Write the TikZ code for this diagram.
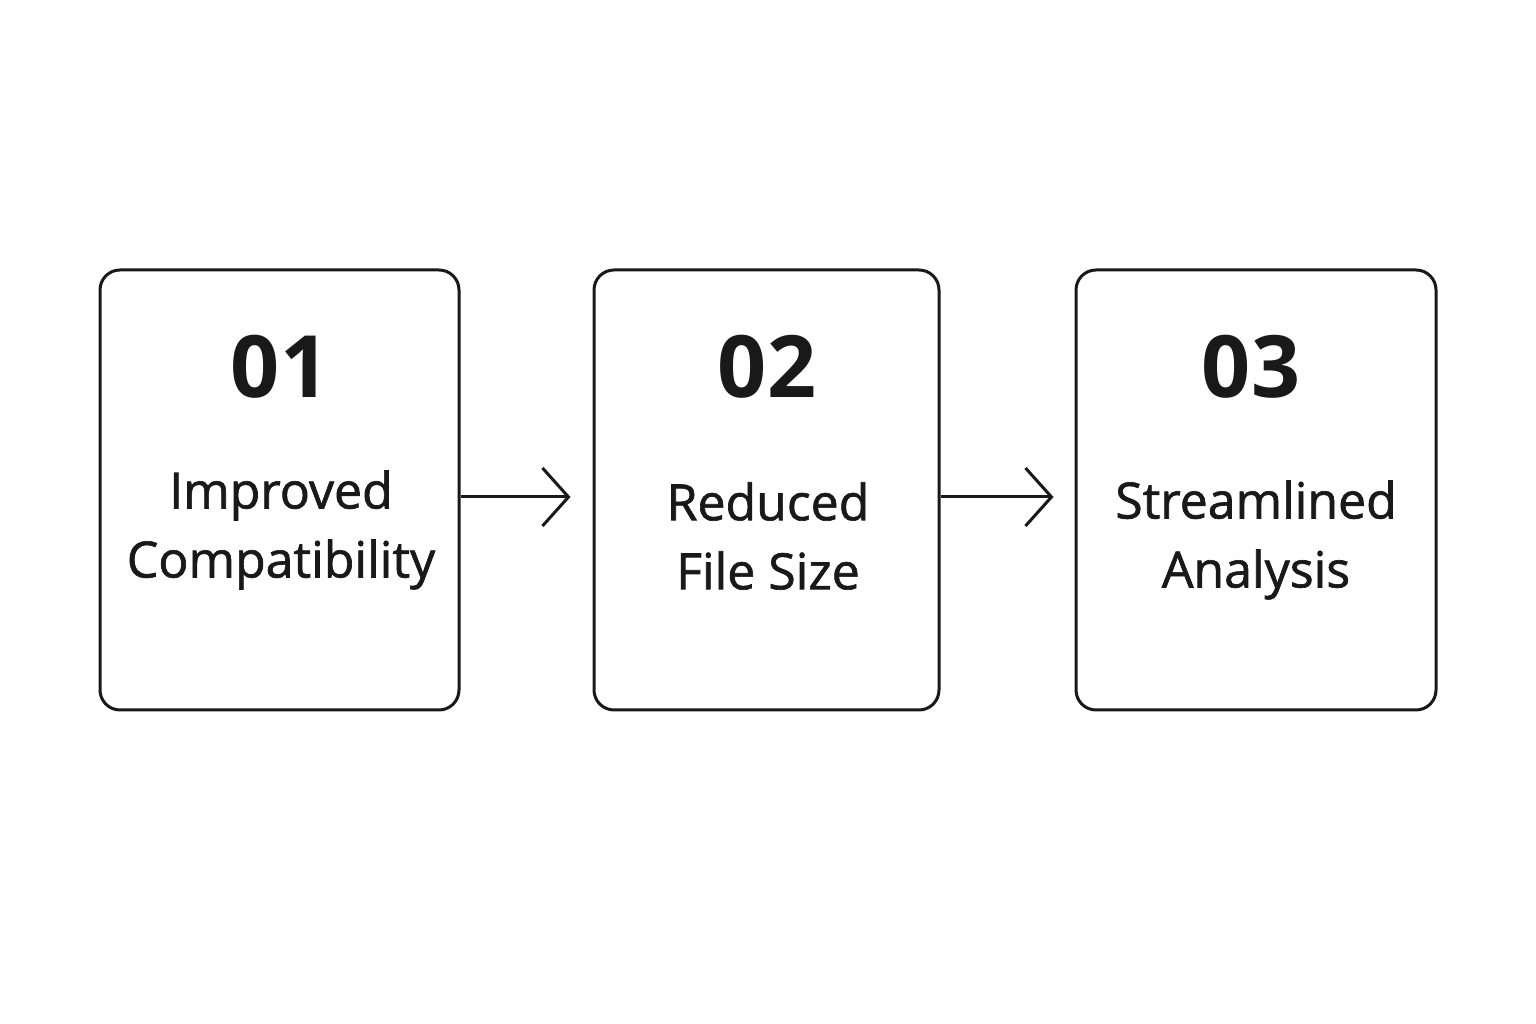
\documentclass[tikz,border=0pt]{standalone}
\usepackage{fontspec}
\setmainfont{Open Sans}
\usetikzlibrary{arrows.meta}
\begin{document}
\begin{tikzpicture}[x=1pt,y=1pt,
  box/.style={draw=black!90, line width=3pt, rounded corners=20pt, minimum height=440pt, inner sep=0pt},
  num/.style={font=\fontsize{86}{86}\selectfont\bfseries, text=black!90, inner sep=0pt},
  lbl/.style={font=\fontsize{50}{69}\selectfont\addfontfeature{FakeBold=1.3}, text=black!90, align=center, inner sep=0pt},
  arr/.style={draw=black!90, line width=3pt, -{Straight Barb[length=26pt,width=58pt,line width=3pt]}}]
\useasboundingbox (0,0) rectangle (1536,1024);
\fill[white] (0,0) rectangle (1536,1024);
\node[box, minimum width=359pt] (b1) at (279.5,534) {};
\node[box, minimum width=345pt] (b2) at (766.5,534) {};
\node[box, minimum width=360pt] (b3) at (1256,534) {};
\node[num] (n1) at (280,657) {01};
\node[num] (n2) at (767,657) {02};
\node[num] (n3) at (1251,657) {03};
\node[lbl] (t1) at (281,494) {Improved\\Compatibility};
\node[lbl] (t2) at (768,488) {Reduced\\File Size};
\node[lbl] (t3) at (1256,484) {Streamlined\\Analysis};
\draw[arr] ([yshift=-7pt]b1.east) -- ([yshift=-7pt,xshift=-22pt]b2.west);
\draw[arr] ([yshift=-7pt]b2.east) -- ([yshift=-7pt,xshift=-21pt]b3.west);
\end{tikzpicture}
\end{document}
